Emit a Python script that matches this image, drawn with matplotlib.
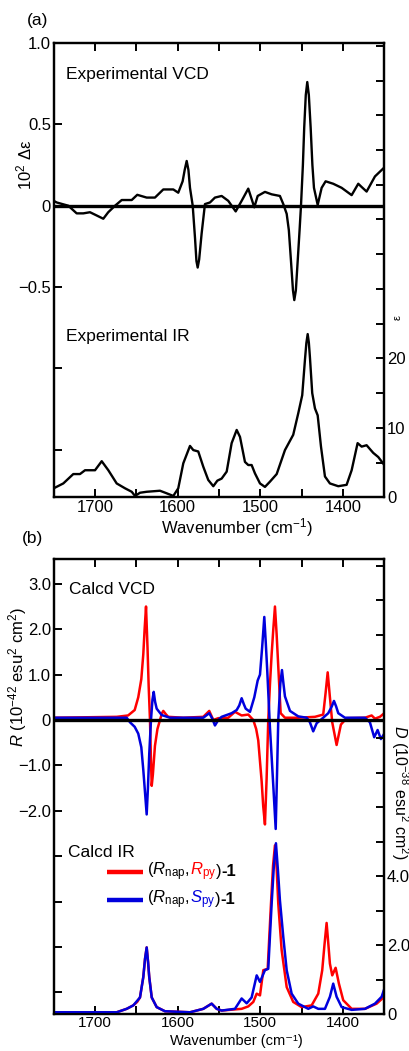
import matplotlib
matplotlib.use("Agg")
import matplotlib.pyplot as plt
from matplotlib.lines import Line2D
from matplotlib.offsetbox import (TextArea, HPacker, VPacker, DrawingArea,
                                  AnchoredOffsetbox)

plt.rcParams['font.family'] = ['Liberation Sans', 'DejaVu Sans']
plt.rcParams['mathtext.fontset'] = 'custom'
plt.rcParams['mathtext.rm'] = 'Liberation Sans'
plt.rcParams['mathtext.it'] = 'Liberation Sans:italic'
plt.rcParams['mathtext.bf'] = 'Liberation Sans:bold'
plt.rcParams['axes.unicode_minus'] = True

# ---------------- data ----------------
wn_vcd_exp = [1750, 1746.4, 1732.3, 1722.2, 1714.2, 1706.1, 1698.0, 1690.0, 1684.0, 1675.8,
              1667.7, 1655.6, 1648.9, 1637.5, 1627.5, 1617.4, 1605.3, 1599.3, 1594.0, 1591.5,
              1589.1, 1587.0, 1585.1, 1581.8, 1579.0, 1577.3, 1575.8, 1574.0, 1571.0, 1567.0,
              1560.9, 1554.9, 1546.8, 1538.8, 1529.8, 1522.6, 1514.6, 1509.8, 1507.3, 1503.2,
              1494.4, 1486.3, 1476.3, 1472.2, 1468.1, 1465.5, 1462.9, 1460.5, 1458.9, 1457.0,
              1454.8, 1452.5, 1450.8, 1448.5, 1446.9, 1445.0, 1443.2, 1441.3, 1439.1, 1437.0,
              1435.1, 1430.6, 1425.8, 1421.0, 1411.8, 1401.6, 1389.5, 1381.5, 1377.4, 1371.4,
              1361.3, 1350]
vcd_exp = [0.03, 0.02, 0.0, -0.047, -0.047, -0.04, -0.06, -0.08, -0.04, 0.0,
           0.035, 0.035, 0.067, 0.05, 0.05, 0.10, 0.10, 0.08, 0.15, 0.22,
           0.275, 0.22, 0.11, 0.0, -0.2, -0.34, -0.38, -0.33, -0.17, 0.01,
           0.02, 0.05, 0.06, 0.03, -0.035, 0.03, 0.105, 0.03, -0.01, 0.06,
           0.085, 0.07, 0.06, 0.01, -0.05, -0.15, -0.34, -0.52, -0.58, -0.52,
           -0.34, -0.15, 0.0, 0.25, 0.48, 0.68, 0.76, 0.68, 0.48, 0.25,
           0.11, 0.005, 0.11, 0.15, 0.135, 0.11, 0.065, 0.135, 0.115, 0.087,
           0.18, 0.235]

wn_ir_exp = [1750, 1738.4, 1726.3, 1718.2, 1712.1, 1700.0, 1691.9, 1683.9, 1673.8, 1663.7,
             1655.6, 1651.6, 1645.6, 1637.5, 1621.4, 1613.3, 1605.3, 1599.3, 1593.2, 1585.1,
             1581.1, 1575.1, 1569.0, 1563.0, 1556.9, 1552.0, 1546.8, 1540.7, 1534.7, 1528.6,
             1524.6, 1518.6, 1514.6, 1510.5, 1506.5, 1500.4, 1494.4, 1488.4, 1480.2, 1470.2,
             1460.2, 1454.1, 1449.3, 1446.0, 1444.3, 1442.7, 1441.3, 1440.0, 1437.2, 1433.9,
             1430.6, 1426.6, 1421.8, 1415.8, 1405.7, 1395.6, 1389.5, 1382.3, 1377.4, 1371.4,
             1363.4, 1357.3, 1350]
ir_exp = [1.3, 2.0, 3.35, 3.35, 3.9, 3.9, 5.2, 3.9, 2.0, 1.3,
          0.8, 0.2, 0.66, 0.8, 0.95, 0.58, 0.2, 1.3, 4.9, 7.4,
          6.8, 6.6, 4.4, 2.5, 1.6, 2.4, 2.7, 3.7, 7.8, 9.7,
          8.7, 5.1, 4.65, 4.65, 3.45, 2.0, 1.5, 2.25, 3.35, 6.8,
          9.0, 12.1, 14.7, 19.8, 22.2, 23.5, 22.3, 20.2, 15.0, 12.8,
          11.8, 7.3, 3.0, 2.0, 1.6, 1.8, 3.9, 7.8, 7.3, 7.5,
          6.4, 5.8, 4.65]

wn_vcd_rr = [1750, 1673.8, 1660, 1652, 1647.7, 1644, 1641.6, 1640, 1638.3, 1636.5,
             1635.1, 1633.5, 1632.3, 1631.4, 1630, 1627.5, 1624.5, 1621.4, 1619, 1617.4,
             1614, 1611.4, 1593.2, 1569.0, 1561.8, 1556.9, 1550.9, 1538.8, 1530.7, 1522.6,
             1514.6, 1508.5, 1505, 1502.5, 1498.4, 1496.5, 1494.4, 1492.4, 1490.4, 1488.3,
             1486.3, 1484.3, 1482.3, 1480.3, 1478.3, 1475.4, 1470.2, 1454.1, 1433.9, 1423.9,
             1421.0, 1418.5, 1415.8, 1413.0, 1407.7, 1402.5, 1395.6, 1373.4, 1365.3, 1361.3,
             1355.3, 1350]
vcd_rr = [0.05, 0.07, 0.1, 0.22, 0.5, 0.9, 1.45, 2.0, 2.5, 1.6,
          0.75, 0.0, -0.9, -1.45, -1.2, -0.57, -0.2, 0.0, 0.15, 0.2,
          0.12, 0.07, 0.05, 0.07, 0.2, 0.0, 0.04, 0.05, 0.18, 0.1,
          0.12, 0.0, -0.2, -0.45, -1.35, -1.9, -2.3, -1.3, 0.0, 0.8,
          1.45, 2.0, 2.5, 1.9, 1.18, 0.15, 0.05, 0.05, 0.07, 0.12,
          0.6, 1.05, 0.5, -0.05, -0.55, -0.1, 0.04, 0.05, 0.1, 0.03,
          0.07, 0.15]

wn_vcd_rs = [1750, 1661.7, 1657.7, 1652, 1647.7, 1644, 1641.6, 1639.5, 1637.5, 1636,
             1634.4, 1632.3, 1630.5, 1629.0, 1627.3, 1625.4, 1619.4, 1609.3, 1569.0, 1561.8,
             1558.1, 1554.9, 1550.9, 1546.8, 1534.7, 1528.6, 1525.5, 1522.6, 1520, 1517.7,
             1512.5, 1507.3, 1503.2, 1500.4, 1497.8, 1495.2, 1493.4, 1491.6, 1488.4, 1484.3,
             1481.4, 1479.8, 1478.3, 1475.8, 1473.8, 1472, 1470.2, 1464.1, 1454.1, 1443.9,
             1440.0, 1436.0, 1431.8, 1425.8, 1417.8, 1413.5, 1410.9, 1408.3, 1405.7, 1397.6,
             1373.4, 1367.4, 1362.2, 1358.1, 1354.1, 1350]
vcd_rs = [0.05, 0.05, -0.05, -0.15, -0.3, -0.6, -1.1, -1.6, -2.08, -1.5,
          -0.75, 0.0, 0.45, 0.62, 0.4, 0.25, 0.11, 0.05, 0.05, 0.15,
          0.03, -0.12, 0.0, 0.07, 0.15, 0.22, 0.32, 0.48, 0.35, 0.25,
          0.18, 0.5, 0.87, 1.0, 1.6, 2.27, 1.7, 1.08, -0.15, -1.45,
          -2.4, -1.2, 0.0, 0.8, 1.1, 0.8, 0.52, 0.2, 0.08, 0.05,
          -0.05, -0.25, -0.07, 0.02, 0.15, 0.3, 0.42, 0.3, 0.15, 0.05,
          0.05, -0.05, -0.38, -0.22, -0.42, -0.3]

wn_ir_rr = [1750, 1673.8, 1661.7, 1653.7, 1649.0, 1645.6, 1641.6, 1639.5, 1637.5, 1635.8,
            1634.4, 1631.4, 1625.4, 1615.4, 1585.1, 1569.0, 1558.9, 1552.8, 1546.8, 1522.6,
            1514.6, 1508.5, 1504.4, 1500.4, 1496.4, 1491.1, 1487.1, 1484.6, 1482.3, 1480.2,
            1478.3, 1474.2, 1468.1, 1460.2, 1450.0, 1437.9, 1429.9, 1425.1, 1422.4, 1419.8,
            1417.6, 1415.8, 1413.0, 1408.9, 1404.9, 1399.7, 1389.5, 1373.4, 1359.3, 1350]
ir_rr = [0.05, 0.05, 0.15, 0.25, 0.35, 0.48, 1.07, 1.6, 1.93, 1.5,
         1.07, 0.48, 0.2, 0.08, 0.05, 0.15, 0.3, 0.15, 0.1, 0.15,
         0.22, 0.35, 0.59, 0.54, 1.27, 1.31, 3.2, 4.3, 4.89, 4.2,
         3.2, 1.85, 0.78, 0.35, 0.2, 0.25, 0.59, 1.27, 2.0, 2.64,
         2.0, 1.46, 1.12, 1.34, 0.88, 0.4, 0.15, 0.15, 0.3, 0.5]

wn_ir_rs = [1750, 1673.8, 1661.7, 1653.7, 1645.6, 1641.6, 1639.5, 1637.5, 1635.8, 1634.4,
            1631.4, 1625.4, 1615.4, 1585.1, 1569.0, 1558.9, 1552.8, 1546.8, 1530.7, 1522.6,
            1516.5, 1510.5, 1504.4, 1500.4, 1494.4, 1490.4, 1486.3, 1483.6, 1481.1, 1478.8,
            1476.3, 1472.2, 1468.1, 1462.1, 1454.1, 1442.0, 1436.0, 1429.9, 1421.8, 1415.8,
            1411.8, 1407.7, 1401.6, 1389.5, 1373.4, 1361.3, 1353.2, 1350]
ir_rs = [0.05, 0.05, 0.15, 0.25, 0.48, 1.07, 1.6, 1.93, 1.5, 1.07,
         0.48, 0.2, 0.08, 0.05, 0.15, 0.3, 0.15, 0.1, 0.15, 0.45,
         0.31, 0.48, 1.12, 0.93, 1.27, 1.31, 3.2, 4.3, 4.95, 4.2,
         3.3, 2.23, 1.27, 0.59, 0.3, 0.15, 0.22, 0.15, 0.15, 0.5,
         0.88, 0.5, 0.2, 0.12, 0.15, 0.3, 0.5, 0.73]

xticks_major = [1700, 1600, 1500, 1400]
xticks_minor = [1650, 1550, 1450]

RED = '#ff0000'
BLUE = '#0000dd'
FS = 12
FT = 12.5

fig = plt.figure(figsize=(4.09, 10.51), dpi=100)
axA = fig.add_axes([0.1313, 0.5268, 0.8083, 0.4323])
axB = fig.add_axes([0.1313, 0.0352, 0.8083, 0.4329])


def style_x(ax, label, ylab, xfs, tfs, tpad):
    ax.set_xlim(1750, 1350)
    ax.set_xticks(xticks_major)
    ax.set_xticklabels([str(v) for v in xticks_major], fontsize=tfs)
    ax.set_xticks(xticks_minor, minor=True)
    ax.tick_params(axis='x', which='both', direction='in', top=True, bottom=True,
                   length=6, width=1.4, pad=tpad)
    ax.set_xlabel(label, fontsize=xfs, va='top')
    ax.xaxis.set_label_coords(0.554, ylab)
    for s in ax.spines.values():
        s.set_linewidth(1.6)


def style_twin(ax2):
    ax2.tick_params(axis='y', which='both', direction='in', right=True, left=False,
                    length=6, width=1.4, labelsize=FS, pad=2)
    for s in ax2.spines.values():
        s.set_linewidth(1.6)


# ---------- panel (a) ----------
axA.plot(wn_vcd_exp, vcd_exp, color='black', lw=1.7)
axA.axhline(0, color='black', lw=2.4)
axA.set_ylim(-1.792, 1.0)
axA.set_yticks([-1.5, -1.0, -0.5, 0, 0.5, 1.0])
axA.set_yticklabels(['', '', '\u22120.5', '0', '0.5', '1.0'], fontsize=FS)
axA.tick_params(axis='y', direction='in', left=True, right=False, length=6, width=1.4, pad=2)
style_x(axA, 'Wavenumber (cm$^{-1}$)', -0.042, FS, FS, 2)
axA.set_ylabel('10$^2$ \u0394\u03b5', fontsize=FS, va='center', ha='center')
axA.yaxis.set_label_coords(-0.087, 0.731)

axA2 = axA.twinx()
axA2.plot(wn_ir_exp, ir_exp, color='black', lw=1.7)
axA2.set_ylim(0, 65.4)
axA2.set_yticks(list(range(0, 70, 5)))
axA2.set_yticklabels(['0', '', '10', '', '20'] + [''] * 9)
style_twin(axA2)
axA2.set_ylabel('\u03b5', fontsize=8, rotation=90, va='center', ha='center')
axA2.yaxis.set_label_coords(1.039, 0.395)
axA.set_xlim(1750, 1350)

axA.text(0.037, 0.93, 'Experimental VCD', transform=axA.transAxes, fontsize=FT,
         va='center', ha='left')
axA.text(0.037, 0.353, 'Experimental IR', transform=axA.transAxes, fontsize=FT,
         va='center', ha='left')
fig.text(27 / 409, 1 - 20 / 1051, '(a)', fontsize=FT, va='center', ha='left')

# ---------- panel (b) ----------
axB.plot(wn_vcd_rr, vcd_rr, color=RED, lw=1.8)
axB.plot(wn_vcd_rs, vcd_rs, color=BLUE, lw=1.8)
axB.axhline(0, color='black', lw=2.4)
axB.set_ylim(-6.476, 3.546)
axB.set_yticks(list(range(-6, 4)))
axB.set_yticklabels(['', '', '', '', '\u22122.0', '\u22121.0', '0', '1.0', '2.0', '3.0'],
                    fontsize=FS)
axB.tick_params(axis='y', direction='in', left=True, right=False, length=6, width=1.4, pad=2)
style_x(axB, 'Wavenumber (cm\u207b\u00b9)', -0.0435, 10.5, 11, 1.5)
axB.set_ylabel('$R$ (10$^{-42}$ esu$^2$ cm$^2$)', fontsize=FS, va='center', ha='center')
axB.yaxis.set_label_coords(-0.11, 0.74)

axB2 = axB.twinx()
axB2.plot(wn_ir_rr, ir_rr, color=RED, lw=1.8)
axB2.plot(wn_ir_rs, ir_rs, color=BLUE, lw=1.8)
axB2.set_ylim(0, 13.19)
axB2.set_yticks(list(range(0, 14)))
axB2.set_yticklabels(['0', '', '2.0', '', '4.0'] + [''] * 9)
style_twin(axB2)
axB2.set_ylabel('$D$ (10$^{-38}$ esu$^2$ cm$^2$)', fontsize=11.5, rotation=270,
                va='center', ha='center')
axB2.yaxis.set_label_coords(1.046, 0.488)
axB.set_xlim(1750, 1350)

axB.text(0.046, 0.934, 'Calcd VCD', transform=axB.transAxes, fontsize=FT,
         va='center', ha='left')
axB.text(0.044, 0.356, 'Calcd IR', transform=axB.transAxes, fontsize=FT,
         va='center', ha='left')
fig.text(22 / 409, 1 - 538 / 1051, '(b)', fontsize=FT, va='center', ha='left')


# legend with multi-coloured labels
def row(color, letter):
    da = DrawingArea(26, 10, 0, 0)
    da.add_artist(Line2D([0, 26], [5, 5], color=color, lw=3.2, solid_capstyle='butt'))
    parts = [
        TextArea(r'($R_{\mathrm{nap}}$,', textprops=dict(fontsize=FS, color='black')),
        TextArea(r'$%s_{\mathrm{py}}$' % letter, textprops=dict(fontsize=FS, color=color)),
        TextArea(')', textprops=dict(fontsize=FS, color='black')),
        TextArea('-1', textprops=dict(fontsize=FS, color='black', fontweight='bold')),
    ]
    txt = HPacker(children=parts, align='baseline', pad=0, sep=0)
    return HPacker(children=[da, txt], align='center', pad=0, sep=3)


leg = VPacker(children=[row(RED, 'R'), row(BLUE, 'S')], align='left', pad=0, sep=4)
anch = AnchoredOffsetbox(loc='upper left', child=leg, pad=0, borderpad=0, frameon=False,
                         bbox_to_anchor=(0.161, 0.337), bbox_transform=axB.transAxes)
axB2.add_artist(anch)

fig.savefig('out.png', dpi=100)
